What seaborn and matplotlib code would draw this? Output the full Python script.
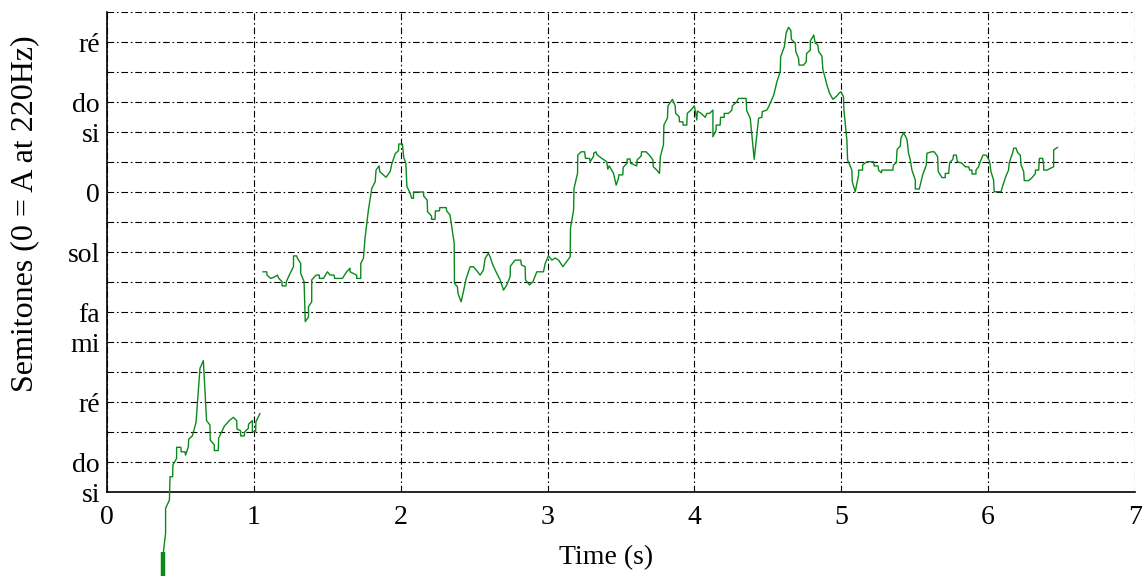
import matplotlib
matplotlib.use("Agg")
import matplotlib.pyplot as plt
from matplotlib.ticker import MultipleLocator, FixedLocator
import seaborn as sns

# ---- data ----
t_first = [0.384, 0.399, 0.399, 0.425, 0.429, 0.447, 0.449, 0.474, 0.474, 0.503, 0.505,
           0.531, 0.535, 0.554, 0.556, 0.581, 0.606, 0.633, 0.656, 0.678, 0.701, 0.703,
           0.731, 0.731, 0.758, 0.760, 0.787, 0.800, 0.833, 0.860, 0.883, 0.885, 0.910,
           0.910, 0.935, 0.937, 0.962, 0.964, 0.990, 0.990, 1.012, 1.014, 1.042]
p_first = [-12.0, -11.38, -10.54, -10.27, -9.49, -9.49, -9.1, -8.88, -8.51, -8.51, -8.66,
           -8.66, -8.77, -8.49, -8.24, -8.13, -7.69, -5.88, -5.62, -7.62, -7.77, -8.27,
           -8.43, -8.62, -8.62, -8.21, -7.93, -7.8, -7.62, -7.51, -7.62, -7.9, -7.96,
           -8.13, -8.13, -8.0, -7.88, -7.74, -7.62, -7.99, -7.99, -7.66, -7.38]

# onset burst below the axis
t_onset = [0.384, 0.384]
p_onset = [-12.0, -14.0]

t_main = [1.061, 1.087, 1.09, 1.114, 1.138, 1.16, 1.17, 1.192, 1.192, 1.219, 1.221, 1.247, 1.27,
          1.27, 1.292, 1.296, 1.319, 1.319, 1.342, 1.35, 1.372, 1.372, 1.394, 1.394, 1.424,
          1.446, 1.446, 1.474, 1.501, 1.519, 1.546, 1.55, 1.603, 1.632, 1.655, 1.655, 1.7, 1.7,
          1.728, 1.728, 1.746, 1.757, 1.78, 1.803, 1.826, 1.832, 1.853, 1.857, 1.90, 1.928,
          1.939, 1.962, 1.985, 1.987, 2.012, 2.02, 2.035, 2.042, 2.06, 2.075, 2.087, 2.087,
          2.155, 2.157, 2.18, 2.183, 2.21, 2.21, 2.234, 2.236, 2.264, 2.266, 2.31, 2.313,
          2.336, 2.364, 2.366, 2.386, 2.39, 2.411, 2.422, 2.446, 2.473, 2.495, 2.518, 2.541,
          2.563, 2.575, 2.597, 2.61, 2.627, 2.654, 2.677, 2.7, 2.722, 2.745, 2.747, 2.779,
          2.817, 2.822, 2.847, 2.85, 2.877, 2.9, 2.927, 2.972, 2.984, 3.006, 3.029, 3.052,
          3.075, 3.104, 3.13, 3.154, 3.156, 3.177, 3.18, 3.204, 3.206, 3.229, 3.252, 3.258,
          3.286, 3.29, 3.312, 3.315, 3.33, 3.335, 3.369, 3.403, 3.41, 3.42, 3.449, 3.467,
          3.483, 3.485, 3.512, 3.515, 3.54, 3.543, 3.562, 3.565, 3.607, 3.61, 3.637, 3.64,
          3.671, 3.698, 3.717, 3.72, 3.744, 3.762, 3.768, 3.789, 3.792, 3.816, 3.82, 3.85,
          3.869, 3.872, 3.896, 3.898, 3.921, 3.924, 3.948, 3.951, 3.976, 3.999, 4.006, 4.016,
          4.02, 4.046, 4.073, 4.085, 4.103, 4.126, 4.126, 4.148, 4.148, 4.175, 4.178, 4.203,
          4.203, 4.232, 4.255, 4.258, 4.289, 4.3, 4.352, 4.356, 4.38, 4.407, 4.437, 4.459,
          4.462, 4.493, 4.505, 4.54, 4.562, 4.584, 4.587, 4.612, 4.625, 4.641, 4.657, 4.66,
          4.687, 4.69, 4.709, 4.712, 4.743, 4.761, 4.764, 4.789, 4.789, 4.807, 4.812, 4.823,
          4.84, 4.846, 4.868, 4.875, 4.891, 4.902, 4.92, 4.943, 4.97, 4.988, 4.998, 5.015,
          5.018, 5.038, 5.043, 5.072, 5.075, 5.095, 5.118, 5.118, 5.145, 5.145, 5.175, 5.22,
          5.224, 5.25, 5.254, 5.273, 5.277, 5.351, 5.355, 5.375, 5.38, 5.402, 5.406, 5.424,
          5.447, 5.458, 5.47, 5.481, 5.504, 5.504, 5.531, 5.554, 5.579, 5.583, 5.613, 5.633,
          5.656, 5.66, 5.686, 5.708, 5.708, 5.731, 5.738, 5.76, 5.764, 5.783, 5.79, 5.821,
          5.844, 5.867, 5.874, 5.89, 5.89, 5.917, 5.917, 5.935, 5.946, 5.965, 5.987, 6.003,
          6.01, 6.019, 6.037, 6.041, 6.088, 6.099, 6.121, 6.139, 6.144, 6.167, 6.174, 6.19,
          6.201, 6.219, 6.224, 6.242, 6.246, 6.276, 6.299, 6.322, 6.322, 6.344, 6.349, 6.371,
          6.378, 6.378, 6.401, 6.424, 6.446, 6.446, 6.473]
p_main = [-2.66, -2.66, -2.77, -2.88, -2.84, -2.77, -2.88, -2.99, -3.13, -3.13, -2.99, -2.71, -2.49,
          -2.13, -2.13, -2.2, -2.38, -2.71, -2.99, -4.32, -4.16, -3.82, -3.66, -2.93, -2.77,
          -2.77, -2.88, -2.88, -2.66, -2.77, -2.77, -2.88, -2.88, -2.66, -2.54, -2.66, -2.77, -2.88,
          -2.88, -2.38, -2.21, -1.54, -0.6, 0.12, 0.34, 0.73, 0.87, 0.68, 0.49, 0.68,
          0.93, 1.27, 1.38, 1.6, 1.6, 1.16, 0.96, 0.18, 0.01, -0.21, -0.21, 0.0,
          0.0, -0.14, -0.27, -0.66, -0.8, -0.91, -0.91, -0.63, -0.63, -0.52, -0.52, -0.63,
          -0.77, -1.71, -3.04, -3.16, -3.38, -3.66, -3.43, -2.88, -2.49, -2.49, -2.62, -2.77,
          -2.6, -2.21, -2.04, -2.18, -2.43, -2.71, -2.93, -3.27, -3.1, -2.82, -2.47, -2.27,
          -2.27, -2.43, -2.49, -2.93, -3.1, -2.99, -2.66, -2.66, -2.38, -2.13, -2.27, -2.2,
          -2.27, -2.49, -2.32, -2.16, -1.21, -0.6, 0.12, 0.62, 1.23, 1.34, 1.34, 1.12,
          1.12, 1.01, 1.18, 1.3, 1.34, 1.25, 1.12, 1.01, 0.76, 0.87, 0.62, 0.23,
          0.46, 0.57, 0.57, 0.82, 0.96, 1.1, 1.1, 0.96, 0.87, 1.07, 1.2, 1.34,
          1.34, 1.2, 1.07, 0.84, 0.73, 0.62, 1.18, 1.57, 2.23, 2.46, 2.87, 3.09,
          2.87, 2.62, 2.51, 2.34, 2.34, 2.23, 2.23, 2.62, 2.73, 2.87, 2.7, 2.4,
          2.7, 2.62, 2.49, 2.62, 2.62, 2.73, 1.84, 2.07, 2.23, 2.23, 2.49, 2.49,
          2.62, 2.62, 2.73, 2.87, 3.01, 3.12, 3.12, 2.71, 2.46, 1.09, 2.46, 2.49,
          2.68, 2.73, 2.84, 3.23, 3.68, 4.01, 4.51, 4.84, 5.31, 5.49, 5.38, 5.09,
          4.96, 4.68, 4.46, 4.23, 4.23, 4.34, 4.62, 4.73, 5.04, 5.18, 5.23, 4.96,
          4.9, 4.68, 4.53, 4.07, 3.79, 3.57, 3.29, 3.09, 3.2, 3.31, 3.34, 3.18,
          2.73, 1.73, 1.07, 0.73, 0.34, 0.01, 0.57, 0.73, 0.73, 0.9, 1.01, 1.01,
          0.87, 0.87, 0.73, 0.64, 0.73, 0.73, 0.9, 0.98, 1.42, 1.53, 1.79, 1.98,
          1.76, 1.29, 1.07, 0.73, 0.4, 0.1, 0.1, 0.57, 0.9, 1.29, 1.34, 1.34,
          1.18, 0.68, 0.48, 0.48, 0.62, 0.62, 0.98, 1.09, 1.23, 1.23, 1.01, 0.96,
          0.84, 0.84, 0.73, 0.73, 0.6, 0.6, 0.73, 0.84, 1.01, 1.23, 1.23, 1.09,
          1.01, 0.68, 0.4, 0.01, 0.01, 0.2, 0.53, 0.73, 0.98, 1.31, 1.46, 1.46,
          1.31, 1.23, 0.9, 0.68, 0.38, 0.38, 0.48, 0.62, 0.73, 0.73, 1.12, 1.12,
          0.9, 0.73, 0.73, 0.79, 0.84, 1.4, 1.49]

y_tick_values = [5, 3, 2, 0, -2, -4, -5, -7, -9, -10]
y_tick_labels = ["ré", "do", "si", "0", "sol", "fa", "mi", "ré", "do", "si"]
x_tick_values = [0, 1, 2, 3, 4, 5, 6, 7]

# ---- style ----
sns.set_style("white")
plt.rcParams["font.family"] = ["Liberation Serif", "DejaVu Serif"]
plt.rcParams["font.size"] = 20
plt.rcParams["text.color"] = "black"
plt.rcParams["axes.labelcolor"] = "black"
plt.rcParams["xtick.color"] = "black"
plt.rcParams["ytick.color"] = "black"

fig = plt.figure(figsize=(11.44, 5.76), dpi=100)
ax = fig.add_axes([107 / 1144, (576 - 492) / 576, 1028 / 1144, 480 / 576])

green = "#0a8a1a"
sns.lineplot(x=t_first, y=p_first, ax=ax, color=green, lw=1.0, sort=False,
             estimator=None, clip_on=False, zorder=3)
sns.lineplot(x=t_onset, y=p_onset, ax=ax, color=green, lw=3.2, sort=False,
             estimator=None, clip_on=False, zorder=3, solid_capstyle="butt")
sns.lineplot(x=t_main, y=p_main, ax=ax, color=green, lw=1.0, sort=False,
             estimator=None, zorder=3)

ax.set_xlim(0, 7)
ax.set_ylim(-10, 6)

ax.xaxis.set_major_locator(FixedLocator(x_tick_values))
ax.set_xticklabels([str(v) for v in x_tick_values])
ax.yaxis.set_major_locator(FixedLocator(y_tick_values))
ax.set_yticklabels(y_tick_labels)
ax.yaxis.set_minor_locator(MultipleLocator(1))

grid_style = dict(color="black", linewidth=0.8, linestyle=(0, (6, 2.5, 1.5, 2.5)))
ax.xaxis.grid(True, which="major", **grid_style)
ax.yaxis.grid(True, which="both", **grid_style)

for side in ("top", "right"):
    ax.spines[side].set_visible(False)
for side in ("left", "bottom"):
    ax.spines[side].set_color("black")
    ax.spines[side].set_linewidth(1.2)

ax.tick_params(axis="both", which="major", direction="out", length=4, width=1,
               color="black", labelcolor="black", labelsize=20)
ax.tick_params(axis="y", which="major", pad=1)
ax.tick_params(axis="x", which="major", pad=5)
ax.tick_params(axis="y", which="minor", length=0)

ax.set_xlabel("Time (s)", fontsize=20, color="black")
ax.set_ylabel("Semitones (0 = A at 220Hz)", fontsize=23, color="black")
ax.xaxis.set_label_coords(0.485, -0.11)
ax.yaxis.set_label_coords(-0.066, 0.58)

fig.savefig("out.png", dpi=100)
